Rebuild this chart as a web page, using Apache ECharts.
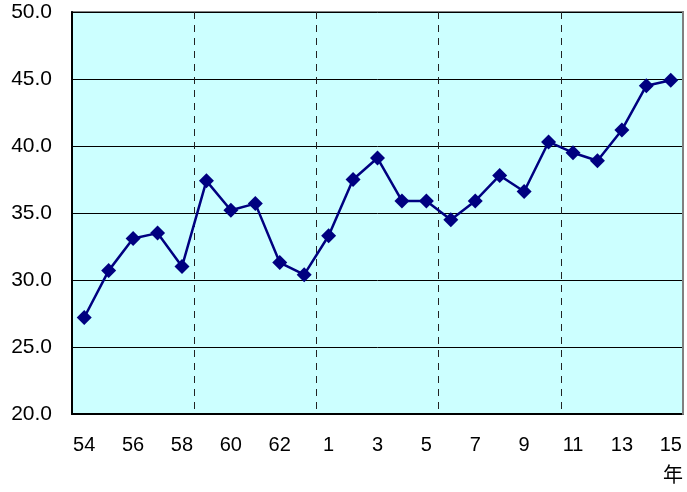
<!DOCTYPE html>
<html>
<head>
<meta charset="utf-8">
<script src="https://cdn.jsdelivr.net/npm/echarts@6/dist/echarts.min.js"></script>
<style>
  html, body { margin: 0; padding: 0; background: #fff; }
  #main { width: 687px; height: 492px; }
</style>
</head>
<body>
<div id="main"></div>
<script>
// years: Showa 54-63, then Heisei 1-15
var years = ['54', '55', '56', '57', '58', '59', '60', '61', '62', '63',
    '1', '2', '3', '4', '5', '6', '7', '8', '9', '10', '11', '12', '13', '14', '15'];
var values = [27.2, 30.7, 33.1, 33.5, 31.0, 37.4, 35.2, 35.7, 31.3, 30.4,
    33.3, 37.5, 39.1, 35.9, 35.9, 34.5, 35.9, 37.8, 36.6, 40.3, 39.5, 38.9, 41.2, 44.5, 44.9];
var yTicks = { min: 20, max: 50, step: 5 };
var unitLabel = '年';

var myChart = echarts.init(document.getElementById('main'));
var option = {
    animation: false,
    grid: {
        left: 72,
        right: 4,
        top: 12,
        bottom: 78,
        show: true,
        backgroundColor: '#CCFFFF',
        borderColor: '#808080',
        borderWidth: 2
    },
    xAxis: {
        type: 'category',
        boundaryGap: true,
        data: years,
        axisLine: { lineStyle: { color: '#000', width: 2 } },
        axisTick: { show: false },
        axisLabel: {
            interval: 1,
            margin: 21,
            color: '#000',
            fontSize: 20,
            fontFamily: 'Liberation Sans, Arial, sans-serif'
        },
        splitLine: {
            show: true,
            // dashed separators every 5 years
            interval: function (index) { return index % 5 === 0 && index > 0 && index < years.length; },
            lineStyle: { color: '#222', type: [7, 6], width: 1 }
        }
    },
    yAxis: [{
        type: 'value',
        min: yTicks.min,
        max: yTicks.max,
        interval: yTicks.step,
        axisLine: { show: true, lineStyle: { color: '#000', width: 2 } },
        axisTick: { show: true, inside: true, length: 5, lineStyle: { color: '#000' } },
        axisLabel: {
            margin: 20,
            color: '#000',
            fontSize: 21,
            fontFamily: 'Liberation Sans, Arial, sans-serif',
            formatter: function (v) { return v.toFixed(1); }
        },
        splitLine: { lineStyle: { color: '#000', width: 1 } }
    }, {
        // right frame edge, covers the last boundary separator
        type: 'value',
        position: 'right',
        min: yTicks.min,
        max: yTicks.max,
        interval: yTicks.step,
        z: 5,
        axisLine: { show: true, lineStyle: { color: '#808080', width: 2 } },
        axisTick: { show: false },
        axisLabel: { show: false },
        splitLine: { show: false }
    }],
    graphic: [{
        type: 'text',
        left: 663,
        top: 464,
        style: {
            text: unitLabel,
            fontSize: 20,
            fontFamily: 'Noto Sans CJK JP',
            fill: '#000'
        }
    }],
    series: [{
        type: 'line',
        data: values,
        symbol: 'diamond',
        symbolSize: 15,
        lineStyle: { color: '#000080', width: 2.5 },
        itemStyle: { color: '#000080' }
    }]
};
myChart.setOption(option);
</script>
</body>
</html>
